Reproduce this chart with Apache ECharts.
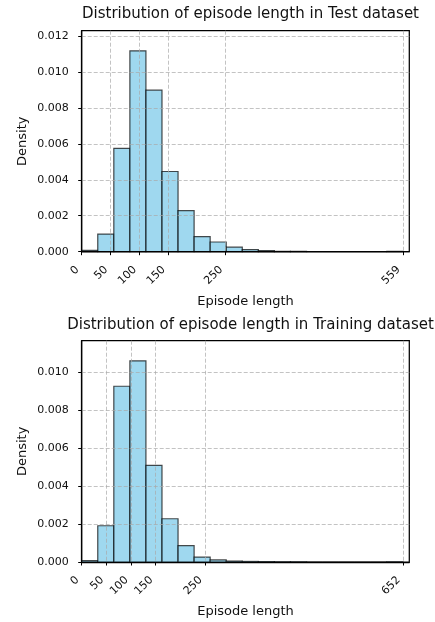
<!DOCTYPE html>
<html>
<head>
<meta charset="utf-8">
<script src="https://cdn.jsdelivr.net/npm/echarts@6/dist/echarts.min.js"></script>
<style>
html,body{margin:0;padding:0;background:#fff;}
#c{width:435px;height:622px;}
</style>
</head>
<body>
<div id="c"></div>
<script>
// ---- data ----
const testTitle = 'Distribution of episode length in Test dataset';
const trainTitle = 'Distribution of episode length in Training dataset';
const testEdges = [0, 27.95, 55.9, 83.85, 111.8, 139.75, 167.7, 195.65, 223.6, 251.55, 279.5, 307.45, 335.4, 363.35, 391.3, 419.25, 447.2, 475.15, 503.1, 531.05, 559];
const testDensity = [0.00007, 0.00098, 0.00574, 0.01117, 0.00898, 0.00446, 0.00228, 0.00084, 0.00054, 0.00025, 0.00012, 0.00006, 0.00002, 0.00002, 0, 0, 0, 0, 0, 0.00002];
const trainEdges = [0, 32.6, 65.2, 97.8, 130.4, 163, 195.6, 228.2, 260.8, 293.4, 326, 358.6, 391.2, 423.8, 456.4, 489, 521.6, 554.2, 586.8, 619.4, 652];
const trainDensity = [0.00007, 0.00191, 0.00926, 0.0106, 0.00509, 0.00228, 0.00086, 0.00026, 0.00011, 0.00005, 0.00003, 0.00002, 0.00001, 0.00001, 0, 0, 0, 0, 0, 0.00001];
const testXTicks = [0, 50, 100, 150, 250, 559];
const trainXTicks = [0, 50, 100, 150, 250, 652];
const testYTicks = [0, 0.002, 0.004, 0.006, 0.008, 0.010, 0.012];
const trainYTicks = [0, 0.002, 0.004, 0.006, 0.008, 0.010];
const xName = 'Episode length';
const yName = 'Density';

// ---- build ----
const FONT = 'DejaVu Sans';
function rows(edges, dens) {
  return dens.map((d, i) => [edges[i], edges[i + 1], d]);
}
const maxOf = a => Math.max.apply(null, a);

const gridLine = {show: true, lineStyle: {color: 'rgba(170,170,170,0.7)', type: [4, 2], width: 1}};

function xAxis(idx, ticks, max) {
  return {
    type: 'value', gridIndex: idx, min: 0, max: max, z: 5,
    name: xName, nameLocation: 'middle', nameGap: 43, nameMoveOverlap: false,
    nameTextStyle: {fontFamily: FONT, fontSize: 13, color: '#111'},
    axisLine: {show: true, onZero: false, lineStyle: {color: '#000', width: 1.25}},
    axisTick: {show: true, length: 3.5, customValues: ticks, lineStyle: {color: '#000', width: 1}},
    axisLabel: {customValues: ticks, rotate: 45, margin: 12, padding: [0, 6, 0, 0], fontFamily: FONT, fontSize: 11, color: '#111',
      formatter: v => String(Math.round(v))},
    splitLine: Object.assign({customValues: ticks}, gridLine)
  };
}
function yAxis(idx, ticks, max) {
  return {
    type: 'value', gridIndex: idx, min: 0, max: max, z: 5,
    name: yName, nameLocation: 'middle', nameGap: 53, nameRotate: 90, nameMoveOverlap: false,
    nameTextStyle: {fontFamily: FONT, fontSize: 13, color: '#111'},
    axisLine: {show: true, lineStyle: {color: '#000', width: 1.25}},
    axisTick: {show: true, length: 3.5, customValues: ticks, lineStyle: {color: '#000', width: 1}},
    axisLabel: {customValues: ticks, margin: 13, fontFamily: FONT, fontSize: 11, color: '#111',
      formatter: v => v.toFixed(3)},
    splitLine: Object.assign({customValues: ticks}, gridLine)
  };
}
function histSeries(idx, data) {
  return {
    type: 'custom', xAxisIndex: idx, yAxisIndex: idx, z: 2,
    encode: {x: [0, 1], y: 2},
    data: data,
    renderItem: function (params, api) {
      const p0 = api.coord([api.value(0), api.value(2)]);
      const p1 = api.coord([api.value(1), 0]);
      return {
        type: 'rect',
        shape: {x: p0[0], y: p0[1], width: p1[0] - p0[0], height: p1[1] - p0[1]},
        style: {fill: 'rgba(135,206,235,0.8)', stroke: 'rgba(0,0,0,0.7)', lineWidth: 1.2}
      };
    }
  };
}

const G = {left: 81.7, width: 327.6, height: 221};
const option = {
  animation: false,
  backgroundColor: '#fff',
  title: [
    {text: testTitle, left: 245.5, top: 2, textAlign: 'center',
      textStyle: {fontFamily: FONT, fontSize: 15, fontWeight: 'normal', color: '#111'}},
    {text: trainTitle, left: 245.5, top: 313, textAlign: 'center',
      textStyle: {fontFamily: FONT, fontSize: 15, fontWeight: 'normal', color: '#111'}}
  ],
  grid: [
    {left: G.left, top: 30.7, width: G.width, height: G.height, show: true, borderColor: '#000', borderWidth: 1.25, backgroundColor: 'transparent'},
    {left: G.left, top: 340.7, width: G.width, height: 221.3, show: true, borderColor: '#000', borderWidth: 1.25, backgroundColor: 'transparent'}
  ],
  xAxis: [
    xAxis(0, testXTicks, maxOf(testEdges) * 1.02),
    xAxis(1, trainXTicks, maxOf(trainEdges) * 1.02)
  ],
  yAxis: [
    yAxis(0, testYTicks, maxOf(testDensity) * 1.1),
    yAxis(1, trainYTicks, maxOf(trainDensity) * 1.1)
  ],
  series: [
    histSeries(0, rows(testEdges, testDensity)),
    histSeries(1, rows(trainEdges, trainDensity))
  ]
};
const chart = echarts.init(document.getElementById('c'), null, {renderer: 'canvas'});
chart.setOption(option);
</script>
</body>
</html>
